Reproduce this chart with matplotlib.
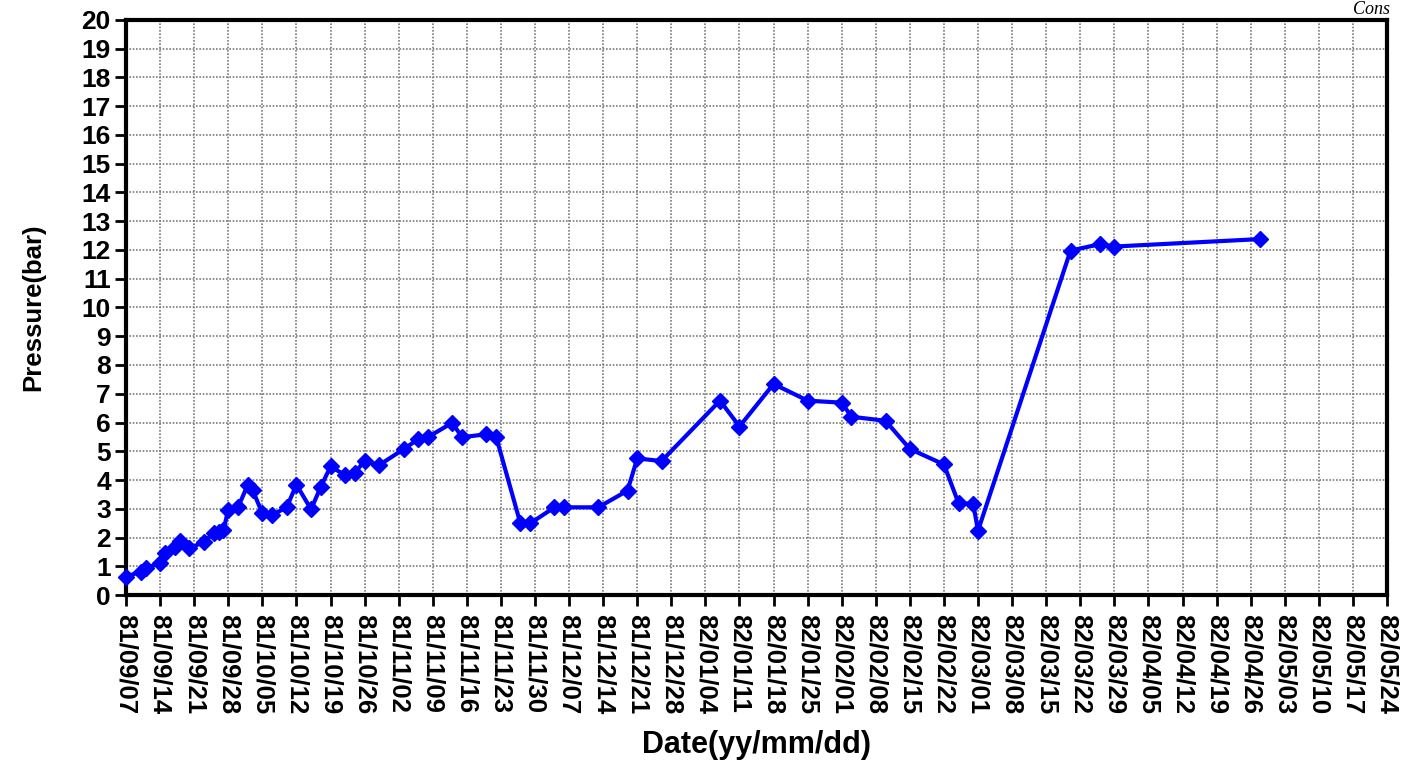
import matplotlib
matplotlib.use('Agg')
import matplotlib.pyplot as plt
import matplotlib.dates as mdates
import numpy as np
import pandas as pd

# measured dates and pressures
dates = ['1981-09-07', '1981-09-10', '1981-09-11', '1981-09-14', '1981-09-15', '1981-09-17',
         '1981-09-18', '1981-09-20', '1981-09-23', '1981-09-25', '1981-09-26', '1981-09-27',
         '1981-09-28', '1981-09-30', '1981-10-02', '1981-10-03', '1981-10-05', '1981-10-07',
         '1981-10-10', '1981-10-12', '1981-10-15', '1981-10-17', '1981-10-19', '1981-10-22',
         '1981-10-24', '1981-10-26', '1981-10-29', '1981-11-03', '1981-11-06', '1981-11-08',
         '1981-11-13', '1981-11-15', '1981-11-20', '1981-11-22', '1981-11-27', '1981-11-29',
         '1981-12-04', '1981-12-06', '1981-12-13', '1981-12-19', '1981-12-21', '1981-12-26',
         '1982-01-07', '1982-01-11', '1982-01-18', '1982-01-25', '1982-02-01', '1982-02-03',
         '1982-02-10', '1982-02-15', '1982-02-22', '1982-02-25', '1982-02-28', '1982-03-01',
         '1982-03-20', '1982-03-26', '1982-03-29', '1982-04-28']
pressure = [0.64, 0.81, 0.94, 1.1, 1.45, 1.68,
            1.89, 1.62, 1.85, 2.15, 2.18, 2.26,
            2.96, 3.05, 3.83, 3.65, 2.84, 2.78,
            3.05, 3.84, 2.98, 3.76, 4.47, 4.17,
            4.25, 4.67, 4.52, 5.07, 5.42, 5.49,
            5.99, 5.49, 5.59, 5.51, 2.49, 2.49,
            3.05, 3.05, 3.05, 3.63, 4.75, 4.66,
            6.76, 5.86, 7.34, 6.76, 6.69, 6.2,
            6.06, 5.08, 4.54, 3.19, 3.17, 2.24,
            11.98, 12.2, 12.12, 12.38]

xstart, xend = '1981-09-07', '1982-05-24'
ymax = 20

t = pd.to_datetime(dates)
week_ticks = pd.date_range(xstart, xend, freq='7D')

plt.rcParams['font.family'] = ['Liberation Sans', 'DejaVu Sans']
plt.rcParams['font.weight'] = 'bold'

fig = plt.figure(figsize=(14.02, 7.65), dpi=100, facecolor='w')
ax = fig.add_axes([0.0899, 0.2222, 0.8994, 0.7517])

ax.plot(t, pressure, '-D', color='#0000ff', lw=3, markersize=8.5, clip_on=False, zorder=3)

ax.set_xlim(pd.Timestamp(xstart), pd.Timestamp(xend))
ax.set_ylim(0, ymax)
ax.set_xticks(week_ticks)
ax.xaxis.set_major_formatter(mdates.DateFormatter('%y/%m/%d'))
ax.set_yticks(np.arange(0, ymax + 1, 1))

ax.grid(True, color='#7a7a7a', linestyle=(0, (1, 1)), lw=1.2)
ax.set_axisbelow(True)
for sp in ax.spines.values():
    sp.set_linewidth(3)

ax.tick_params(axis='both', direction='out', length=8, width=2)
ax.tick_params(axis='y', pad=3, labelsize=19)
ax.tick_params(axis='x', pad=6, labelsize=18.5)
for lab in ax.get_xticklabels():
    lab.set_rotation(-90)
    lab.set_fontweight('bold')
for lab in ax.get_yticklabels():
    lab.set_fontweight('bold')

ax.set_ylabel('Pressure(bar)', fontsize=18.5, fontweight='bold')
ax.yaxis.set_label_coords(-0.064, 0.5)
ax.set_xlabel('Date(yy/mm/dd)', fontsize=22, fontweight='bold')
ax.xaxis.set_label_coords(0.5, -0.235)

fig.text(0.965, 0.999, 'Cons', fontsize=13, fontstyle='italic', fontweight='normal',
         family='Liberation Serif', ha='left', va='top')

fig.savefig('out.png', dpi=100)
